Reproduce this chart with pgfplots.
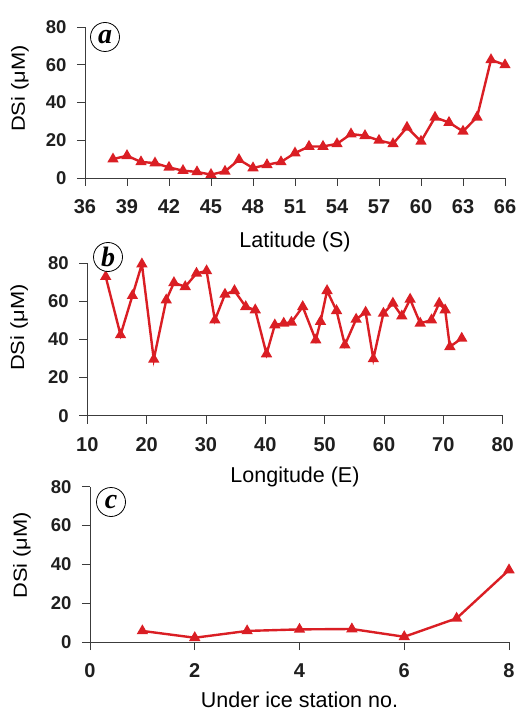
\documentclass[border=0pt]{standalone}
\usepackage{pgfplots}
\pgfplotsset{compat=1.18}
\usepackage{fontspec}
\setmainfont{Liberation Sans}
\newfontfamily\letterfont{Liberation Serif}
\definecolor{dsired}{RGB}{218,30,36}
\definecolor{axisgray}{RGB}{60,60,60}

\pgfplotsset{
  dsipanel/.style={
    scale only axis,
    axis lines=left,
    axis line style={-, axisgray, line width=0.9pt},
    tick style={axisgray, line width=0.9pt},
    tick align=outside,
    major tick length=8pt,
    ymin=0, ymax=80, ytick={0,20,40,60,80},
    /pgf/number format/assume math mode=true,
    xticklabel style={font=\fontsize{20}{20}\selectfont\bfseries, text=black!88, yshift=-10pt},
    yticklabel style={font=\fontsize{18.5}{18.5}\selectfont\bfseries, text=black!88, xshift=-7pt},
    every axis x label/.style={at={(axis description cs:0.5,0)}, anchor=center, font=\fontsize{21.5}{21.5}\selectfont},
    every axis y label/.style={at={(axis description cs:0,0.5)}, rotate=90, anchor=center, font=\fontsize{19}{19}\selectfont},
    ylabel={\scalebox{1.15}[1]{DSi (μM)}},
    clip=false,
  },
  dsiline/.style={dsired, line width=2.4pt, mark=triangle*, mark size=4.2pt, mark options={solid}},
}

\begin{document}
\begin{tikzpicture}
\useasboundingbox (0,0) rectangle (518pt,-711pt);

% (a) latitude
\begin{axis}[dsipanel,
  at={(85pt,-27pt)}, anchor=north west,
  width=420pt, height=151pt,
  xmin=36, xmax=66, xtick={36,39,...,66},
  xlabel={Latitude (S)},
  xlabel style={yshift=-64pt},
  ylabel style={yshift=65pt, xshift=14pt},
]
\addplot[dsiline] coordinates {
(38,10.0) (39,11.8) (40,8.5) (41,7.9) (42,5.6) (43,3.9) (44,3.2) (45,1.8)
(46,3.5) (47,9.7) (48,5.3) (49,7.0) (50,8.5) (51,13.2) (52,16.7) (53,16.7)
(54,18.1) (55,23.3) (56,22.4) (57,19.9) (58,18.1) (59,26.8) (60,19.4)
(61,32.1) (62,29.4) (63,24.7) (64,32.2) (65,62.6) (66,59.9)};
\end{axis}

% (b) longitude
\begin{axis}[dsipanel,
  at={(87.3pt,-263.3pt)}, anchor=north west,
  width=415.4pt, height=152.4pt,
  xmin=10, xmax=80, xtick={10,20,...,80},
  xlabel={Longitude (E)},
  xlabel style={yshift=-61pt},
  ylabel style={yshift=68pt, xshift=12pt},
]
\addplot[dsiline] coordinates {
(13.1,73.0) (15.6,42.4) (17.6,63.0) (19.2,79.6) (21.2,29.6) (23.3,60.7)
(24.6,69.8) (26.5,67.7) (28.4,74.7) (30.1,76.0) (31.5,50.2) (33.2,63.7)
(34.8,65.6) (36.7,57.2) (38.3,55.5) (40.2,32.4) (41.6,47.6) (43.1,48.5)
(44.4,49.0) (46.3,57.2) (48.5,39.7) (49.3,49.4) (50.4,65.6) (52.0,55.1)
(53.4,37.1) (55.3,50.6) (56.9,54.3) (58.2,29.8) (59.9,53.7) (61.5,59.0)
(63.0,52.3) (64.4,61.1) (66.1,48.5) (68.0,50.2) (69.3,59.0) (70.3,55.5)
(71.1,36.2) (73.1,40.6)};
\end{axis}

% (c) under ice stations
\begin{axis}[dsipanel,
  at={(90pt,-486.7pt)}, anchor=north west,
  width=419pt, height=155.3pt,
  xmin=0, xmax=8, xtick={0,2,...,8},
  xlabel={Under ice station no.},
  xlabel style={yshift=-58pt},
  ylabel style={yshift=68pt, xshift=9pt},
]
\addplot[dsiline] coordinates {
(1,5.7) (2,2.2) (3,5.7) (4,6.5) (5,6.7) (6,2.7) (7,12.2) (8,37.1)};
\end{axis}

\tikzset{panellabel/.style={circle, draw=black, line width=0.8pt, fill=white,
  minimum size=29pt, inner sep=0pt,
  font=\letterfont\fontsize{28}{28}\selectfont\bfseries\itshape}}
\node[panellabel] at (105pt,-37pt) {a};
\node[panellabel] at (108pt,-257pt) {b};
\node[panellabel] at (111pt,-502pt) {c};
\end{tikzpicture}
\end{document}
